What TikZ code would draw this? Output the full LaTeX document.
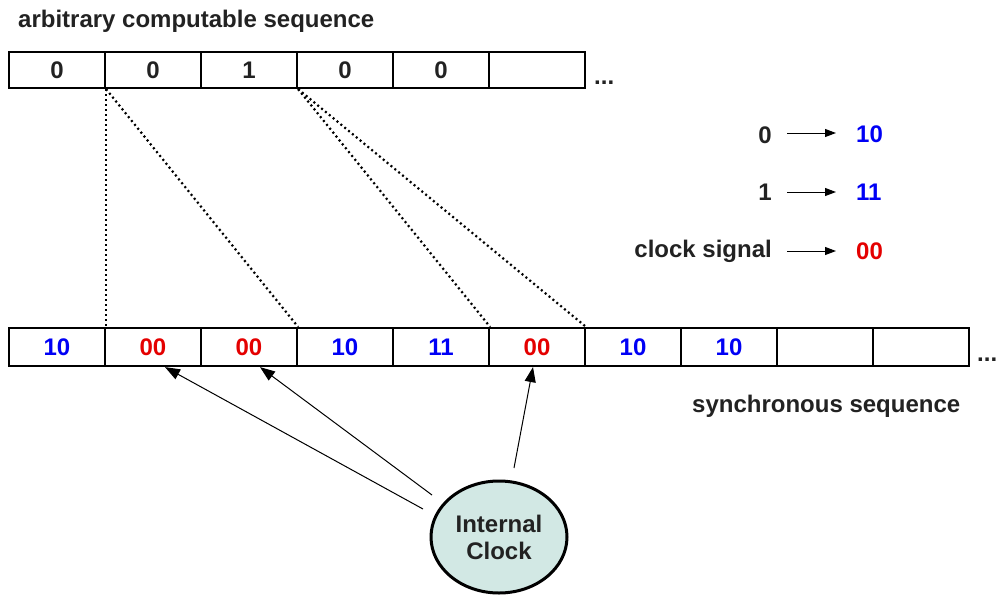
\documentclass[tikz,border=0pt]{standalone}
\usepackage{fontspec}
\setmainfont{Liberation Sans}
\usetikzlibrary{arrows.meta,shapes.geometric}
\definecolor{txt}{RGB}{34,34,34}
\definecolor{bl}{RGB}{0,0,245}
\definecolor{rd}{RGB}{228,0,0}
\definecolor{clk}{RGB}{210,232,228}
\tikzset{
  cell/.style={draw=black, line width=2.2pt, minimum width=96pt, inner sep=0pt, font=\fontsize{24}{27}\selectfont\bfseries},
  tcell/.style={cell, minimum height=36pt, text=txt},
  bcell/.style={cell, minimum height=38pt},
  lbl/.style={font=\fontsize{24}{27}\selectfont\bfseries, text=txt, inner sep=0pt},
  dots/.style={line width=2.2pt, dash pattern=on 2pt off 3pt},
  clkarrow/.style={line width=1pt, -{Triangle[length=15pt,width=11pt]}},
  legarrow/.style={line width=1pt, -{Triangle[length=11pt,width=8pt]}},
}
\begin{document}
\begin{tikzpicture}[x=1pt,y=-1pt]
\useasboundingbox (0,0) rectangle (997,595);
% title
\node[lbl, anchor=west] (title) at (18,21) {arbitrary computable sequence};
% top row
\node[tcell] (t1) at (57,70) {0};
\node[tcell] (t2) at (153,70) {0};
\node[tcell] (t3) at (249,70) {1};
\node[tcell] (t4) at (345,70) {0};
\node[tcell] (t5) at (441,70) {0};
\node[tcell] (t6) at (537,70) {};
\node[lbl, anchor=base west] (tdots) at (594,84) {...};
% bottom row
\node[bcell, text=bl] (b1) at (57,347) {10};
\node[bcell, text=rd] (b2) at (153,347) {00};
\node[bcell, text=rd] (b3) at (249,347) {00};
\node[bcell, text=bl] (b4) at (345,347) {10};
\node[bcell, text=bl] (b5) at (441,347) {11};
\node[bcell, text=rd] (b6) at (537,347) {00};
\node[bcell, text=bl] (b7) at (633,347) {10};
\node[bcell, text=bl] (b8) at (729,347) {10};
\node[bcell] (b9) at (825,347) {};
\node[bcell] (b10) at (921,347) {};
\node[lbl, anchor=base west] (bdots) at (977,361) {...};
\node[lbl, anchor=west] (sync) at (692,406) {synchronous sequence};
% dotted mapping lines
\draw[dots] (t1.south east) -- (b1.north east);
\draw[dots] (t1.south east) -- (b3.north east);
\draw[dots] (t3.south east) -- (b5.north east);
\draw[dots] (t3.south east) -- (b6.north east);
% legend
\node[lbl, anchor=east] (l0) at (772,135) {0};
\node[lbl, anchor=west, text=bl] (r0) at (856,134) {10};
\node[lbl, anchor=east] (l1) at (772,192) {1};
\node[lbl, anchor=west, text=bl] (r1) at (856,192) {11};
\node[lbl, anchor=east] (l2) at (772,251) {clock signal};
\node[lbl, anchor=west, text=rd] (r2) at (856,251) {00};
\draw[legarrow] (787,133) -- ([xshift=-20pt]r0.west |- 0,133);
\draw[legarrow] ([xshift=15pt]l1.east) -- ([xshift=-20pt]r1.west);
\draw[legarrow] ([xshift=15pt]l2.east) -- ([xshift=-20pt]r2.west);
% internal clock
\node[ellipse, draw=black, line width=3pt, fill=clk, minimum width=136pt, minimum height=112pt, inner sep=0pt, align=center, font=\fontsize{24}{27}\selectfont\bfseries, text=txt] (clock) at (499,537) {Internal\\Clock};
\coordinate (s1) at (423,509);
\coordinate (s2) at (432,495);
\coordinate (s3) at (514,468);
\draw[clkarrow] (s1) -- ([xshift=12pt]b2.south);
\draw[clkarrow] (s2) -- ([xshift=11pt]b3.south);
\draw[clkarrow] (s3) -- ([xshift=-4pt]b6.south);
\end{tikzpicture}
\end{document}
